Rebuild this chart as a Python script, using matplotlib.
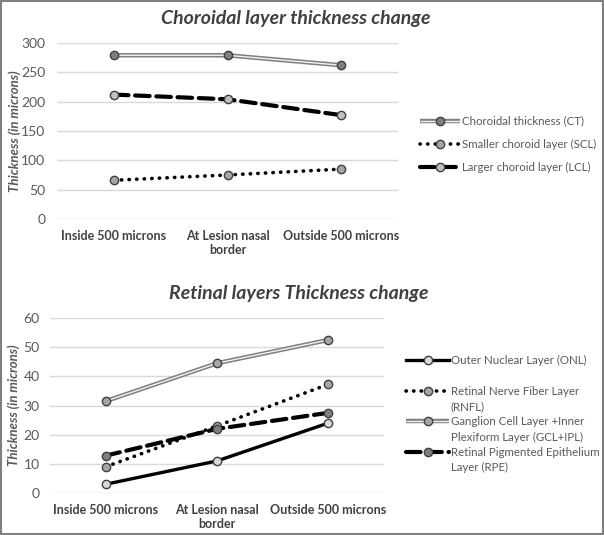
import matplotlib
matplotlib.use("Agg")
import matplotlib.pyplot as plt
from matplotlib.lines import Line2D
from matplotlib.legend_handler import HandlerTuple
import numpy as np

plt.rcParams['font.family'] = ['Lato', 'DejaVu Sans']

categories = ["Inside 500 microns", "At Lesion nasal\nborder", "Outside 500 microns"]

# choroidal layers
ct = [279, 279, 262]
scl = [66, 75, 85]
lcl = [212, 204, 177]

# retinal layers
onl = [3, 11, 24]
rnfl = [9, 23, 37.3]
gcl_ipl = [31.5, 44.5, 52.5]
rpe = [12.8, 22, 27.5]

dark_text = "#404040"
tick_grey = "#595959"
grid_grey = "#d9d9d9"

fig = plt.figure(figsize=(6.04, 5.35), dpi=100)


def style_axes(ax, ymax, step, ypad, ylab_x):
    ax.set_xlim(-0.5, 2.5)
    ax.set_ylim(0, ymax)
    ax.set_yticks(np.arange(0, ymax + 1, step))
    ax.set_xticks(range(len(categories)))
    ax.set_xticklabels(categories, fontsize=9, fontweight="bold", color=dark_text)
    for s in ax.spines.values():
        s.set_visible(False)
    ax.grid(axis="y", color=grid_grey, lw=1)
    ax.set_axisbelow(True)
    ax.tick_params(axis="both", length=0)
    ax.tick_params(axis="y", labelsize=10, labelcolor=tick_grey, pad=ypad)
    ax.tick_params(axis="x", pad=8)
    ax.set_ylabel("Thickness (in microns)", fontsize=9.5, fontweight="bold",
                  fontstyle="italic", color=tick_grey)
    ax.yaxis.set_label_coords(ylab_x, 0.5)


def double_line(ax, x, y, fill):
    a = ax.plot(x, y, color="#7f7f7f", lw=3.2, solid_capstyle="butt", zorder=3)[0]
    b = ax.plot(x, y, color="#f2f2f2", lw=1.0, solid_capstyle="butt", zorder=3)[0]
    c = ax.plot(x, y, ls="none", marker="o", ms=6, mfc=fill, mec="#404040",
                mew=1.0, zorder=4)[0]
    return (a, b, c)


def simple_line(ax, x, y, ls, lw, color, fill):
    return ax.plot(x, y, ls=ls, lw=lw, color=color, marker="o", ms=6, mfc=fill,
                   mec="#404040", mew=1.0, dash_capstyle="round", zorder=3)[0]


blank = Line2D([], [], ls="none")
tuple_map = {tuple: HandlerTuple(ndivide=1, pad=0)}

xs = np.arange(len(categories))
dotted = (0, (0.1, 2.0))
dashed = (0, (3.5, 1.6))

# top panel
ax1 = fig.add_axes([0.0944, 0.5907, 0.5646, 0.329])
style_axes(ax1, 300, 50, 8.5, -0.105)
h_ct = double_line(ax1, xs, ct, "#7f7f7f")
h_scl = simple_line(ax1, xs, scl, dotted, 2.6, "black", "#a6a6a6")
h_lcl = simple_line(ax1, xs, lcl, dashed, 3.0, "black", "#bfbfbf")
ax1.set_title("Choroidal layer thickness change", fontsize=14, fontweight="bold",
              fontstyle="italic", color=dark_text, x=0.70, pad=14)
leg1 = ax1.legend([h_ct, h_scl, h_lcl],
                  ["Choroidal thickness (CT)", "Smaller choroid layer (SCL)",
                   "Larger choroid layer (LCL)"],
                  handler_map=tuple_map,
                  loc="upper left", bbox_to_anchor=(0.695, 0.784),
                  bbox_transform=fig.transFigure, frameon=False, fontsize=8.3,
                  handlelength=3.45, handletextpad=0.2, labelspacing=1.06,
                  borderaxespad=0, borderpad=0)
for t in leg1.get_texts():
    t.set_color(tick_grey)

# bottom panel
ax2 = fig.add_axes([0.0828, 0.0785, 0.553, 0.327])
style_axes(ax2, 60, 10, 7.5, -0.09)
h_onl = simple_line(ax2, xs, onl, "-", 2.4, "black", "#d9d9d9")
h_rnfl = simple_line(ax2, xs, rnfl, dotted, 2.6, "black", "#a6a6a6")
h_gcl = double_line(ax2, xs, gcl_ipl, "#a6a6a6")
h_rpe = simple_line(ax2, xs, rpe, dashed, 3.0, "black", "#7f7f7f")
ax2.set_title("Retinal layers Thickness change", fontsize=14, fontweight="bold",
              fontstyle="italic", color=dark_text, x=0.745, pad=14)
leg2 = ax2.legend([h_onl, blank, h_rnfl, blank, h_gcl, blank, h_rpe, blank],
                  ["Outer Nuclear Layer (ONL)", " ",
                   "Retinal Nerve Fiber Layer", "(RNFL)",
                   "Ganglion Cell Layer +Inner", "Plexiform Layer (GCL+IPL)",
                   "Retinal Pigmented Epithelium", "Layer (RPE)"],
                  handler_map=tuple_map,
                  loc="upper left", bbox_to_anchor=(0.672, 0.336),
                  bbox_transform=fig.transFigure, frameon=False, fontsize=8.3,
                  handlelength=3.75, handletextpad=0.15, labelspacing=0.37,
                  borderaxespad=0, borderpad=0)
for t in leg2.get_texts():
    t.set_color(tick_grey)

# outer border
fig.patches.append(plt.Rectangle((0.001, 0.001), 0.997, 0.997, transform=fig.transFigure,
                                 fill=False, edgecolor="#7f7f7f", lw=1.5))

fig.savefig("out.png", dpi=100)
